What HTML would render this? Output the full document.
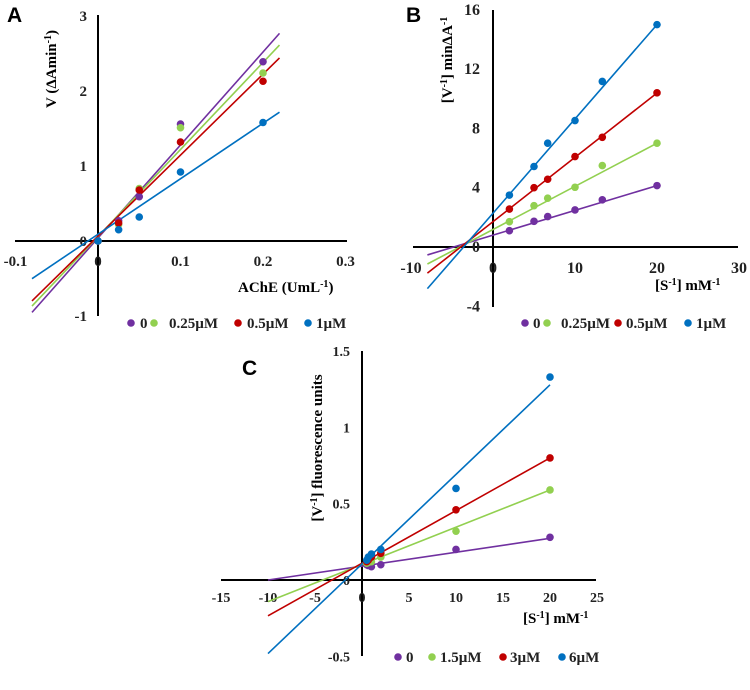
<!DOCTYPE html>
<html><head><meta charset="utf-8"><style>
html,body{margin:0;padding:0;background:#fff;width:750px;height:690px;overflow:hidden}
svg{display:block}
.t{font-family:"Liberation Serif",serif;font-weight:bold;fill:#222}
.p{font-family:"Liberation Sans",sans-serif;font-weight:bold;font-size:21px;fill:#000}
</style></head><body>
<svg id="fig" width="750" height="690" viewBox="0 0 750 690"></svg>
<script>
const colors=["#7030a0","#92d050","#c00000","#0070c0"];
// Panel A
const aLegend=["0","0.25µM","0.5µM","1µM"];
const aX=[0,0.025,0.05,0.1,0.2];
const aPurple=[0,0.27,0.59,1.56,2.39];
const aGreen=[0,0.22,0.70,1.51,2.24];
const aRed=[0,0.24,0.68,1.32,2.13];
const aBlue=[0,0.15,0.32,0.92,1.58];
const aSlope=[12.4,11.6,10.8,7.4];
const aIntercept=[0.04,0.06,0.065,0.09];
const aXTicks=[-0.1,0,0.1,0.2,0.3];
const aXTickLabels=["-0.1","0","0.1","0.2","0.3"];
const aYTicks=[-1,0,1,2,3];
const aYTickLabels=["-1","0","1","2","3"];
// Panel B
const bLegend=["0","0.25µM","0.5µM","1µM"];
const bX=[2,5,6.67,10,13.33,20];
const bPurple=[1.1,1.73,2.05,2.5,3.18,4.14];
const bGreen=[1.71,2.79,3.29,4.03,5.49,7.0];
const bRed=[2.56,4.0,4.57,6.1,7.4,10.4];
const bBlue=[3.5,5.43,7.0,8.53,11.17,15.0];
const bSlope=[0.167,0.291,0.434,0.636];
const bIntercept=[0.8,1.18,1.71,2.28];
const bXTicks=[-10,0,10,20,30];
const bXTickLabels=["-10","0","10","20","30"];
const bYTicks=[-4,0,4,8,12,16];
const bYTickLabels=["-4","0","4","8","12","16"];
// Panel C
const cLegend=["0","1.5µM","3µM","6µM"];
const cX=[0.5,0.67,1,2,10,20];
const cPurple=[0.1,0.095,0.087,0.1,0.2,0.28];
const cGreen=[0.11,0.115,0.12,0.15,0.32,0.59];
const cRed=[0.12,0.13,0.15,0.175,0.46,0.8];
const cBlue=[0.13,0.15,0.17,0.2,0.6,1.33];
const cSlope=[0.0091,0.0244,0.0345,0.0587];
const cIntercept=[0.091,0.102,0.11,0.105];
const cXTicks=[-15,-10,-5,0,5,10,15,20,25];
const cXTickLabels=["-15","-10","-5","0","5","10","15","20","25"];
const cYTicks=[-0.5,0,0.5,1,1.5];
const cYTickLabels=["-0.5","0","0.5","1","1.5"];

const NS="http://www.w3.org/2000/svg";
const svg=document.getElementById('fig');
function mk(tag,attrs,parent,text){const e=document.createElementNS(NS,tag);for(const k in attrs)e.setAttribute(k,attrs[k]);if(text!==undefined)e.textContent=text;(parent||svg).appendChild(e);return e;}

function panel(cfg){
  const g=mk('g',{});
  
  
  const sx=v=>cfg.x0+(v-cfg.xa)*(cfg.x1-cfg.x0)/(cfg.xb-cfg.xa);
  const sy=v=>cfg.y0+(v-cfg.ya)*(cfg.y1-cfg.y0)/(cfg.yb-cfg.ya);
  const xax=mk('line',{x1:cfg.axL,x2:cfg.axR,y1:sy(0),y2:sy(0),stroke:'#000','stroke-width':2},g);
  
  
  const yax=mk('line',{x1:sx(0),x2:sx(0),y1:cfg.axT,y2:cfg.axB,stroke:'#000','stroke-width':2},g);
  
  
  const fs='font-size:'+cfg.fs+'px';
  cfg.xt.forEach((v,i)=>{const t=mk('text',{x:sx(v),y:sy(0)+cfg.xlOff,'text-anchor':'middle',class:'t',style:fs},g,cfg.xtl[i]);
    
    });
  cfg.yt.forEach((v,i)=>{const t=mk('text',{x:sx(0)-cfg.ylOff,y:sy(v)+5,'text-anchor':'end',class:'t',style:fs},g,cfg.ytl[i]);
    
    });
  cfg.series.forEach((s,i)=>{
    const l=mk('line',{x1:sx(cfg.lx0),y1:sy(cfg.slope[i]*cfg.lx0+cfg.icpt[i]),x2:sx(cfg.lx1),y2:sy(cfg.slope[i]*cfg.lx1+cfg.icpt[i]),stroke:colors[i],'stroke-width':1.6},g);
    
    
  });
  cfg.series.forEach((s,i)=>{
    s.forEach((v,j)=>{const c=mk('circle',{cx:sx(cfg.xs[j]),cy:sy(v),r:3.8,fill:colors[i]},g);
      
      });
  });
  cfg.leg.forEach((n,i)=>{
    const e=mk('circle',{cx:cfg.legX[i],cy:cfg.legY-5,r:3.8,fill:colors[i]},g);
    
    
    const t=mk('text',{x:cfg.legTX[i],y:cfg.legY,class:'t',style:'font-size:15px'},g,n);
    
    
  });
  return g;
}

panel({id:'a',fs:15,xa:0,xb:0.1,x0:98,x1:180.5,ya:0,yb:1,y0:241,y1:166,axL:15,axR:347,axT:15,axB:316,
 xt:aXTicks,xtl:aXTickLabels,yt:aYTicks,ytl:aYTickLabels,xlOff:25,ylOff:11,
 xs:aX,series:[aPurple,aGreen,aRed,aBlue],slope:aSlope,icpt:aIntercept,lx0:-0.08,lx1:0.22,
 leg:aLegend,legX:[131,154,238,308],legTX:[140,169,247,316],legY:328});
panel({id:'b',fs:16,xa:0,xb:10,x0:493,x1:575,ya:0,yb:4,y0:247,y1:187.7,axL:413,axR:738,axT:10,axB:307,
 xt:bXTicks,xtl:bXTickLabels,yt:bYTicks,ytl:bYTickLabels,xlOff:26,ylOff:13,
 xs:bX,series:[bPurple,bGreen,bRed,bBlue],slope:bSlope,icpt:bIntercept,lx0:-8,lx1:20,
 leg:bLegend,legX:[525,547,618,688],legTX:[533,561,626,696],legY:328});
panel({id:'c',fs:14,xa:0,xb:10,x0:362,x1:456,ya:0,yb:0.5,y0:580,y1:503.7,axL:221,axR:596,axT:351,axB:656,
 xt:cXTicks,xtl:cXTickLabels,yt:cYTicks,ytl:cYTickLabels,xlOff:22,ylOff:12,
 xs:cX,series:[cPurple,cGreen,cRed,cBlue],slope:cSlope,icpt:cIntercept,lx0:-10,lx1:20,
 leg:cLegend,legX:[398,432,503,562],legTX:[406,440,510,569],legY:662});
</script>
<svg width="750" height="690" style="position:absolute;left:0;top:0">
<text class="p" x="7" y="22" style="font-family:'Liberation Sans',sans-serif;font-weight:bold;font-size:21px">A</text>
<text class="p" x="406" y="22" style="font-family:'Liberation Sans',sans-serif;font-weight:bold;font-size:21px">B</text>
<text class="p" x="242" y="375" style="font-family:'Liberation Sans',sans-serif;font-weight:bold;font-size:21px">C</text>
<text transform="translate(56,69) rotate(-90)" text-anchor="middle" style="font-family:'Liberation Serif',serif;font-weight:bold;font-size:15px">V (ΔAmin<tspan dy="-5" font-size="10">-1</tspan><tspan dy="5">)</tspan></text>
<text x="238" y="292" style="font-family:'Liberation Serif',serif;font-weight:bold;font-size:15px">AChE (UmL<tspan dy="-5" font-size="10">-1</tspan><tspan dy="5">)</tspan></text>
<text transform="translate(452,60) rotate(-90)" text-anchor="middle" style="font-family:'Liberation Serif',serif;font-weight:bold;font-size:15px">[V<tspan dy="-5" font-size="10">-1</tspan><tspan dy="5">] minΔA</tspan><tspan dy="-5" font-size="10">-1</tspan></text>
<text x="655" y="290" style="font-family:'Liberation Serif',serif;font-weight:bold;font-size:15px">[S<tspan dy="-5" font-size="10">-1</tspan><tspan dy="5">] mM</tspan><tspan dy="-5" font-size="10">-1</tspan></text>
<text transform="translate(322,448) rotate(-90)" text-anchor="middle" style="font-family:'Liberation Serif',serif;font-weight:bold;font-size:15px">[V<tspan dy="-5" font-size="10">-1</tspan><tspan dy="5">] fluorescence units</tspan></text>
<text x="523" y="623" style="font-family:'Liberation Serif',serif;font-weight:bold;font-size:15px">[S<tspan dy="-5" font-size="10">-1</tspan><tspan dy="5">] mM</tspan><tspan dy="-5" font-size="10">-1</tspan></text>
</svg>
</body></html>
